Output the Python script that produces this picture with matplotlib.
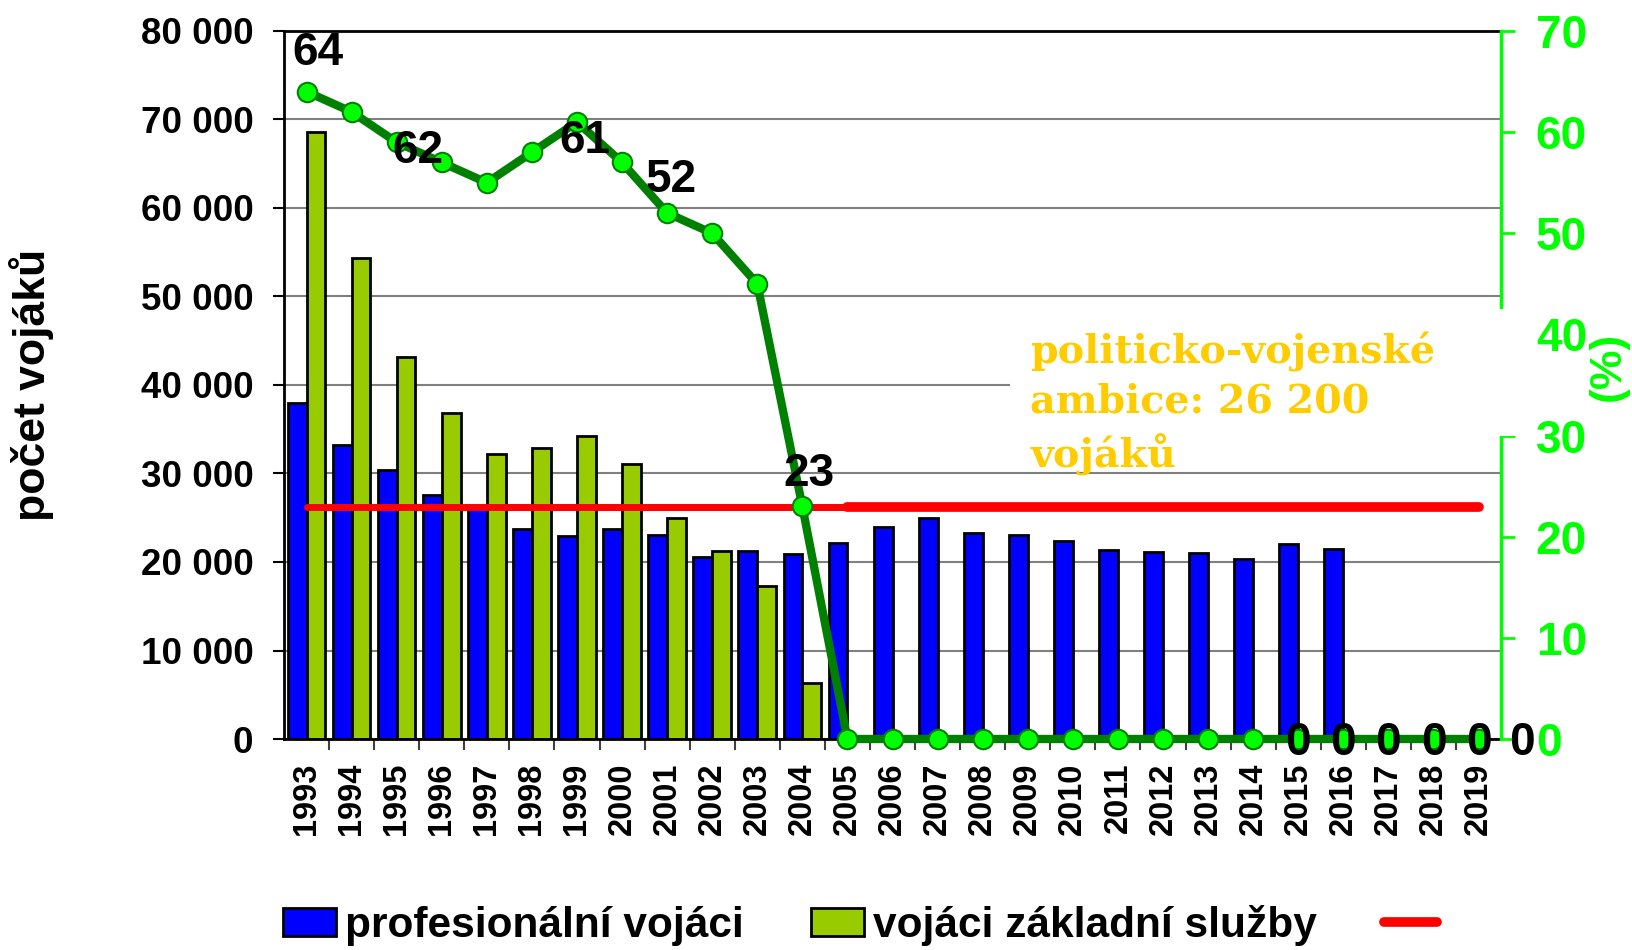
import matplotlib
matplotlib.use('Agg')
import matplotlib.pyplot as plt
from matplotlib.patches import Rectangle, Patch
from matplotlib.lines import Line2D
from matplotlib.ticker import FuncFormatter
import numpy as np

plt.rcParams['font.family'] = ['Liberation Sans', 'DejaVu Sans']
plt.rcParams['font.weight'] = 'bold'

# data
roky = [str(r) for r in range(1993, 2020)]
profesionalni = [38000, 33200, 30400, 27600, 26000, 23700, 22900, 23700, 23100, 20600,
                 21200, 20900, 22200, 23900, 25000, 23300, 23100, 22400, 21300, 21100,
                 21000, 20300, 22000, 21500, np.nan, np.nan, np.nan]
zakladni = [68600, 54300, 43200, 36800, 32200, 32900, 34200, 31100, 25000, 21200,
            17300, 6300] + [np.nan] * 15
podil = [64, 62, 59, 57, 55, 58, 61, 57, 52, 50, 45, 23] + [0] * 15
ambice = 26200
# body s popiskem a posun popisku (v bodech)
popisky = {0: (8, 28), 1: (48, -28), 6: (6, -14), 8: (3, 24), 11: (5, 23),
           22: (0, -3), 23: (0, -3), 24: (0, -3), 25: (0, -3), 26: (0, -3)}

fig = plt.figure(figsize=(16.33, 9.5), dpi=100)
ax = fig.add_axes([0.1739, 0.2221, 0.7453, 0.7453])
x = np.arange(len(roky))
w = 0.417

ax.bar(x - w / 2, profesionalni, w, color='#0000FF', edgecolor='black', linewidth=2, zorder=2)
ax.bar(x + w / 2, zakladni, w, color='#99CC00', edgecolor='black', linewidth=2, zorder=2)
ax.plot(x[:13], [ambice] * 13, color='red', lw=5, solid_capstyle='round', zorder=3)
ax.plot(x[12:], [ambice] * 15, color='red', lw=7, solid_capstyle='round', zorder=3)

ax.set_xlim(-0.5, len(roky) - 0.5)
ax.set_ylim(0, 80000)
ax.set_yticks(np.arange(0, 80001, 10000))
ax.yaxis.set_major_formatter(FuncFormatter(lambda v, p: f'{int(v):,}'.replace(',', ' ')))
ax.yaxis.grid(True, color='#808080', lw=1.5)
ax.set_axisbelow(True)
ax.tick_params(axis='y', labelsize=26.5, length=8, width=1.5, pad=14)
ax.set_xticks(x)
ax.set_xticklabels(roky, rotation=90, fontsize=23.5)
ax.set_xticks(x[:-1] + 0.5, minor=True)
ax.tick_params(axis='x', which='major', length=0, pad=17)
ax.tick_params(axis='x', which='minor', length=8, width=1.5, color='#404040')
for s in ['left', 'top', 'bottom']:
    ax.spines[s].set_linewidth(2)
ax.spines['right'].set_visible(False)

ax2 = ax.twinx()
ax2.set_ylim(0, 70)
ax2.set_yticks(np.arange(0, 71, 10))
ax2.plot(x, podil, color='#008000', lw=6, marker='o', markersize=14,
         markerfacecolor='#00FF00', markeredgecolor='#008000', markeredgewidth=1.5,
         clip_on=False, zorder=5)
for i, (dx, dy) in popisky.items():
    ax2.annotate(str(podil[i]), (x[i], podil[i]), xytext=(dx, dy), textcoords='offset points',
                 ha='center', va='center', fontsize=33, color='black', zorder=6,
                 annotation_clip=False)
ax2.annotate('0', (x[-1], podil[-1]), xytext=(31, -3), textcoords='offset points',
             ha='center', va='center', fontsize=33, color='black', annotation_clip=False)
ax2.tick_params(axis='y', colors='#00FF00', labelsize=33, length=10, width=2, pad=15)
for s in ['left', 'top', 'bottom']:
    ax2.spines[s].set_visible(False)
ax2.spines['right'].set_color('#00FF00')
ax2.spines['right'].set_linewidth(2.5)

# bila plocha pod textem
ax2.add_patch(Rectangle((0.6185, 0.541), 0.312, 0.134, transform=fig.transFigure,
                        facecolor='white', edgecolor='none', clip_on=False, zorder=3))
fig.text(0.631, 0.651, 'politicko-vojenské\nambice: 26 200\nvojáků', color='#FFCC00',
         fontsize=28.5, fontweight='bold', family=['DejaVu Serif'], va='top', ha='left',
         linespacing=1.38, zorder=5)

fig.text(0.019, 0.595, 'počet vojáků', rotation=90, fontsize=32, ha='center', va='center')
fig.text(0.985, 0.614, '(%)', rotation=90, fontsize=32, color='#00FF00', ha='center', va='center')

handles = [Patch(facecolor='#0000FF', edgecolor='black', lw=2),
           Patch(facecolor='#99CC00', edgecolor='black', lw=2),
           Line2D([], [], color='red', lw=7, solid_capstyle='round')]
fig.legend(handles, ['profesionální vojáci', 'vojáci základní služby', ''], loc='center',
           bbox_to_anchor=(0.5295, 0.026), ncol=3, frameon=False, fontsize=30.5,
           handlelength=1.25, handleheight=0.62, handletextpad=0.2, columnspacing=1.6)

fig.savefig('out.png', dpi=100)
